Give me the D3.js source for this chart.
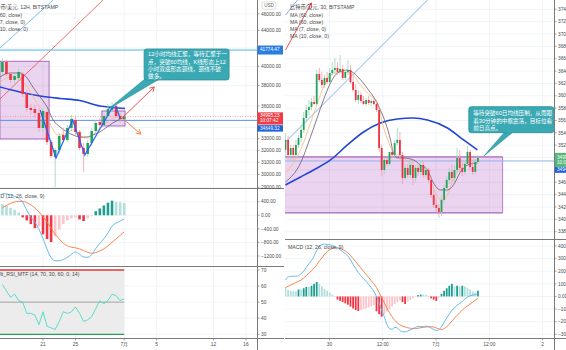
<!DOCTYPE html>
<html><head><meta charset="utf-8">
<script src="https://cdn.jsdelivr.net/npm/d3@7"></script>
<style>
html,body{margin:0;padding:0;background:#fff;}
svg{display:block;font-family:"Liberation Sans",Arial,"Noto Sans CJK SC",sans-serif;}
</style>
</head><body>
<svg id="chart" width="566" height="350"></svg>
<script>
// ================= DATA =================
// Left: BTC/USD 12h candles, [open, high, low, close]
const leftStart = new Date(2021, 5, 16, 0, 0);
const leftCandles = [
  [39408,40902,39095,40469],[40469,40685,38991,39199],[39199,39408,38271,38577],
  [38577,39199,38068,38991],[38785,39830,38373,39408],[39199,39408,36872,37168],
  [37168,37565,35430,35809],[35809,36192,35148,35619],[35714,36096,34870,35336],
  [35336,35809,33595,33954],[33954,35809,33595,35524],[35430,35619,32455,32715],
  [32715,32889,31353,31520],[31436,32197,29026,32026],[32026,33506,31688,33240],
  [33329,33954,32715,32889],[32889,34226,32715,33954],[33954,35148,33684,34777],
  [34685,34962,33329,33595],[33595,33774,32026,32197],[32197,32628,30207,31688],
  [31688,32889,31436,32628],[32628,33954,32369,33684],[33684,34685,33506,34409],
  [34501,34870,33954,34226],[34226,35336,34135,35055],[35055,36192,34870,35714],
  [35619,36385,35430,36000],[36000,36192,34870,35055],[35055,35336,34409,34777],
  [34777,35148,34685,34995.23]
];
// moving averages as [candle index, value]
const leftMA60 = [[-0.6,37865],[4.3,37365],[9.3,36970],[14.2,36725],[19.1,36530],[24.0,36000],[27.2,35857],[30.2,35761]];
const leftMA10 = [[-0.6,38886],[1.9,39303],[4.3,39303],[6.1,38784],[7.5,37865],[9.3,36872],[11.0,35904],[12.5,34684],[14.2,34044],[15.9,33596],[17.4,33329],[19.1,33151],[20.8,33151],[22.3,33329],[24.0,33596],[25.8,34044],[27.2,34409],[29.7,34870]];
const leftMA7 = [[-0.6,38272],[1.9,38886],[3.6,38784],[6.1,37865],[8.5,36289],[11.0,34961],[12.5,33775],[13.7,33329],[15.9,33505],[17.4,33775],[19.1,33151],[20.8,33063],[22.3,33329],[24.0,33954],[25.8,34499],[28.2,34961],[29.7,35055]];
const leftZigzag = [[9.3,35619],[13.2,31349],[17.3,34684],[20.3,31602],[27.0,35809],[28.0,35904],[29.0,34870]];
const leftLevelHigh = 41774.47;
const leftLevelLow = 34649.32;
const lastPrice = 34995.23;
const leftMacd = [640,630,600,560,500,380,150,-60,-200,-420,-680,-1000,-1250,-1340,-1340,-1300,-1240,-1150,-1080,-1150,-1230,-1240,-1160,-980,-830,-690,-520,-320,-230,-170,-110];
const leftSignal = [220,290,350,390,410,410,370,310,220,100,-40,-200,-380,-560,-700,-820,-900,-940,-960,-990,-1040,-1090,-1120,-1100,-1050,-990,-900,-800,-700,-590,-490];
const leftHist = [330,280,220,160,80,-60,-150,-260,-380,-330,-560,-700,-790,-620,-420,-260,-150,-90,-60,-120,-170,-90,-30,120,200,290,370,430,400,380,360];
const leftRsi = [61,57,53,55,51,50,43,43,42,36,44,35,34,33,38,44,43,44,47,43,38,39,41,46,51,49,51,55,54,51,52];
const leftPriceTicks = [46000,44000,42000,40000,38000,36000,34000,33000,32000,31000,30000,29000];
const leftMacdTicks = [400,0,-400,-800,-1200];
const rsiTicks = [70,60,50,40,30];
const leftTimeTicks = [new Date(2021,5,21),new Date(2021,5,25),new Date(2021,6,1),new Date(2021,6,5),new Date(2021,6,12),new Date(2021,6,16)];
const leftTimeLabels = ["21","25","7月","5","12","16"];

// Right: BTC/USD 30m candles, [open, high, low, close]
const rightCandles = [
  [35123,35398,34994,35285],[35285,35350,34961,35042],[35042,35204,34929,35155],
  [35155,35204,34961,35042],[35042,35285,34994,35204],[35204,35366,35155,35317],
  [35317,35527,35252,35447],[35447,35738,35398,35641],[35641,35851,35576,35770],
  [35770,35932,35690,35819],[35819,35965,35770,35900],[35900,35997,35851,35867],
  [35867,36418,35851,36353],[36353,36450,36223,36256],[36256,36385,36127,36175],
  [36175,36337,36127,36288],[36288,36385,36191,36223],[36223,36450,36191,36369],
  [36369,36547,36320,36418],[36418,36612,36353,36450],[36450,36547,36337,36385],
  [36385,36660,36353,36434],[36434,36498,36256,36288],[36288,36418,36256,36385],
  [36385,36579,36337,36418],[36418,36498,36191,36223],[36223,36320,36062,36094],
  [36094,36191,35900,35932],[35932,36094,35867,36013],[36013,36062,35884,35916],
  [35916,35997,35851,35867],[35867,35965,35835,35932],[35932,35997,35851,35884],
  [35884,35948,35835,35916],[35916,35965,35851,35867],[35867,35932,35738,35770],
  [35770,35819,35091,35155],[35155,35204,34702,34799],[34799,34994,34734,34961],
  [34961,35026,34864,34896],[34896,35091,34864,35091],[35091,35155,34994,35042],
  [35042,35285,35010,35236],[35236,35479,35204,35285],[35285,35414,34994,35042],
  [35042,35091,34573,34670],[34670,34913,34638,34832],[34832,34896,34670,34718],
  [34718,34961,34670,34880],[34880,34961,34557,34670],[34670,34880,34605,34832],
  [34832,34913,34702,34767],[34767,34961,34718,34880],[34880,34929,34670,34718],
  [34718,34864,34670,34799],[34799,34832,34589,34638],[34638,34702,34346,34395],
  [34395,34476,34185,34233],[34233,34346,34120,34185],[34185,34249,34023,34120],
  [34120,34379,34055,34314],[34314,34557,34265,34508],[34508,34702,34443,34638],
  [34638,34832,34573,34767],[34767,34880,34605,34670],[34670,34864,34605,34799],
  [34799,35155,34751,34994],[34994,35123,34767,34832],[34832,34929,34702,34767],
  [34767,34961,34718,34896],[34896,35188,34864,35091],[35091,35123,34799,34848],
  [34848,34929,34718,34767],[34767,34961,34734,34929],[34929,35042,34896,34995.23]
];
const rightMA60 = [[0,34557],[5.8,34686],[10.8,34799],[17.3,34961],[23.8,35204],[30,35414],[36.5,35560],[43,35625],[49.2,35641],[54.6,35608],[62.3,35479],[68.5,35285],[73.8,35123]];
const rightMA10 = [[0,34605],[5.8,34913],[9.6,35333],[12.3,35657],[14.6,35932],[17.3,36207],[20,36369],[23.8,36417],[26.2,36369],[29.6,36223],[31.9,36094],[34.6,35932],[36.5,35770],[38.5,35560],[40.4,35285],[41.5,35074],[43.1,34994],[45.4,34994],[49.2,34961],[51.9,34880],[54.6,34799],[56.9,34589],[59.6,34476],[62.3,34476],[64.6,34557],[67.3,34767],[70,34880],[73.8,34913]];
const rightMA7 = [[0,34750],[5.8,35123],[9.6,35560],[12.3,35883],[14.6,36142],[17.3,36336],[21.2,36385],[25,36369],[28.8,36175],[31.5,36045],[35.4,35883],[37.7,35495],[40.4,35172],[42.3,35042],[44.2,35042],[46.2,34961],[50,34832],[53.8,34767],[56.5,34557],[58.5,34363],[60.4,34314],[62.3,34396],[64.2,34605],[66.5,34799],[69.2,34913],[71.9,34961],[73.8,34961]];
const rightZone = {from:0, to:83.5, top:35010, bottom:34104};
const rightLevel = 34945;
const rightMacd = [130,155,160,160,160,165,180,200,230,260,285,320,365,395,410,415,412,410,405,395,385,370,355,340,320,290,255,220,190,165,140,120,95,70,40,0,-50,-110,-160,-220,-255,-260,-245,-250,-270,-280,-280,-275,-265,-255,-245,-238,-238,-240,-235,-240,-250,-262,-270,-265,-240,-205,-170,-140,-110,-90,-70,-55,-40,-20,-5,5,10,15,22];
const rightSignal = [70,80,90,100,110,120,130,145,165,185,205,225,250,280,305,335,355,370,380,385,385,380,372,360,345,325,300,275,250,225,200,175,150,125,100,70,30,-10,-50,-90,-130,-160,-190,-210,-225,-235,-242,-248,-252,-255,-255,-252,-248,-245,-242,-240,-240,-242,-250,-258,-263,-255,-240,-220,-195,-172,-150,-128,-108,-90,-75,-60,-45,-30,-15];
const rightHist = [70,50,45,42,40,55,55,65,75,75,85,100,115,100,80,60,45,30,15,5,-25,-35,-45,-55,-65,-80,-95,-108,-115,-105,-100,-95,-88,-78,-70,-118,-140,-160,-140,-120,-100,-80,-60,-45,-30,-45,-60,-40,-28,-15,-3,10,15,15,12,5,-15,-25,-35,-10,20,45,65,85,100,80,85,80,85,80,70,55,40,30,45];
const rightPriceTicks = d3.range(33800, 37401, 200);
const rightMacdTicks = [400,300,200,100,0,-100,-200,-300];
const rightTimeTicks = [16.9,37.4,57.9,78.4,98.9];
const rightTimeLabels = ["30","12:00","7月","12:00","2"];

const leftNote = ["12小时均线汇聚，等待汇聚于一","点，突破60均线，K线形态上12","小时双底形态颈线，颈线不破","做多。"];
const rightNote = ["等待突破60日均线压制，从而跟","着30分钟的中枢震荡，目标位看","前日高点。"];

// ================= SETUP =================
const svg = d3.select("#chart");
svg.append("rect").attr("width",566).attr("height",350).attr("fill","#fff");
const defs = svg.append("defs");
function clip(id,x,y,w,h){defs.append("clipPath").attr("id",id).append("rect").attr("x",x).attr("y",y).attr("width",w).attr("height",h);}
clip("lm",0,0,257,188); clip("lmacd",0,188.5,257,77.5); clip("lrsi",0,266.5,257,71.5);
clip("rm",285,0,269,239); clip("rmacd",285,239.5,269,98.5);
clip("leftAll",0,0,284,350); clip("rightAll",285,0,281,350);

const C = {
  grid:"#edf1f5", up:"#22a45a", dn:"#ef3340", upW:"#9fd3bd", dnW:"#f3a0a7",
  ma60:"#2245d6", ma10:"#6a5872", ma7:"#f3bd7a", zig:"#2962ff",
  hUp:"#1f9e8f", hUpL:"#b2dfdb", hDn:"#f23645", hDnL:"#fac6cb",
  macd:"#53b3ea", sig:"#f5793a", text:"#4a4a4a", axis:"#7a7a7a",
  note:"#3aa9b4", noteEdge:"#2b8f99"
};

// scales
const xLt = d3.scaleTime().domain([new Date(2021,5,21), new Date(2021,6,16)]).range([43,246]);
const lx = i => xLt(new Date(leftStart.getTime() + i*43200000));
const yL = d3.scaleLog().domain([29000,46000]).range([187.3,13.8]);
const yLm = d3.scaleLinear().domain([-1200,400]).range([256,201.7]);
const yLr = d3.scaleLinear().domain([30,70]).range([334.3,270]);
const xR = d3.scaleLinear().domain([0,74]).range([285.5,477.9]);
const yR = d3.scaleLinear().domain([33800,37400]).range([231.7,9.3]);
const yRm = d3.scaleLinear().domain([-300,400]).range([334.3,246]);

const fmt = d3.format(".2f");

// ================= helpers =================
function hline(g,y,x1,x2,color,w,dash){
  const l=g.append("line").attr("x1",x1).attr("x2",x2).attr("y1",y).attr("y2",y).attr("stroke",color).attr("stroke-width",w||1);
  if(dash) l.attr("stroke-dasharray",dash); return l;
}
function vline(g,x,y1,y2,color,w){
  return g.append("line").attr("x1",x).attr("x2",x).attr("y1",y1).attr("y2",y2).attr("stroke",color).attr("stroke-width",w||1);
}
function drawCandles(g,data,xf,yf,bw){
  g.append("g").selectAll("line").data(data).join("line")
    .attr("x1",(d,i)=>xf(i)).attr("x2",(d,i)=>xf(i))
    .attr("y1",d=>yf(d[1])).attr("y2",d=>yf(d[2]))
    .attr("stroke",d=>d[3]>=d[0]?C.upW:C.dnW).attr("stroke-width",0.8);
  g.append("g").selectAll("rect").data(data).join("rect")
    .attr("x",(d,i)=>xf(i)-bw/2).attr("width",bw)
    .attr("y",d=>Math.min(yf(d[0]),yf(d[3])))
    .attr("height",d=>Math.max(0.8,Math.abs(yf(d[0])-yf(d[3]))))
    .attr("fill",d=>d[3]>=d[0]?C.up:C.dn);
}
function drawPath(g,pts,xf,yf,color,w,curve){
  g.append("path").datum(pts)
    .attr("d",d3.line().x(d=>xf(d[0])).y(d=>yf(d[1])).curve(curve||d3.curveMonotoneX))
    .attr("fill","none").attr("stroke",color).attr("stroke-width",w);
}
function histColor(v,prev){
  if(v>=0) return (prev!==undefined && v>prev)?C.hUp:C.hUpL;
  return (prev!==undefined && v<prev)?C.hDn:C.hDnL;
}
function drawHist(g,vals,xf,yf,bw){
  g.append("g").selectAll("rect").data(vals).join("rect")
    .attr("x",(d,i)=>xf(i)-bw/2).attr("width",bw)
    .attr("y",d=>Math.min(yf(0),yf(d))).attr("height",d=>Math.abs(yf(d)-yf(0)))
    .attr("fill",(d,i)=>histColor(d,vals[i-1]));
}
function arrow(g,x1,y1,x2,y2,color){
  g.append("line").attr("x1",x1).attr("y1",y1).attr("x2",x2).attr("y2",y2).attr("stroke",color).attr("stroke-width",0.9);
  const a=Math.atan2(y2-y1,x2-x1), L=5;
  [a+2.6,a-2.6].forEach(b=>{
    g.append("line").attr("x1",x2).attr("y1",y2).attr("x2",x2+L*Math.cos(b)).attr("y2",y2+L*Math.sin(b))
      .attr("stroke",color).attr("stroke-width",0.9);
  });
}
function text(g,x,y,s,size,color,anchor){
  return g.append("text").attr("x",x).attr("y",y).text(s).attr("font-size",size).attr("fill",color||C.text).attr("text-anchor",anchor||"start");
}
function callout(g,bx,by,bw,bh,base,tip,lines,tx,ty0,lh){
  g.append("path").attr("d",`M${bx+base[0][0]},${by+base[0][1]-2}L${tip[0]},${tip[1]}L${bx+base[1][0]},${by+base[1][1]-2}Z`)
    .attr("fill",C.note).attr("stroke",C.noteEdge).attr("stroke-width",0.6);
  g.append("rect").attr("x",bx).attr("y",by).attr("width",bw).attr("height",bh).attr("rx",2.5)
    .attr("fill",C.note).attr("stroke",C.noteEdge).attr("stroke-width",0.8);
  g.append("path").attr("d",`M${bx+base[0][0]+0.6},${by+bh-0.6}L${bx+base[1][0]-0.6},${by+bh-0.6}`)
    .attr("stroke",C.note).attr("stroke-width",1.4);
  lines.forEach((s,k)=>text(g,bx+tx,by+ty0+k*lh,s,5.6,"#fff"));
}

// ================= LEFT PANEL =================
const left = svg.append("g").attr("clip-path","url(#leftAll)");
// grid
const lgrid = left.append("g");
leftTimeTicks.forEach(d=>vline(lgrid,xLt(d),0,338,C.grid,0.8));
leftPriceTicks.forEach(v=>hline(lgrid,yL(v),0,257,C.grid,0.8));
leftMacdTicks.forEach(v=>hline(lgrid,yLm(v),0,257,C.grid,0.8));
rsiTicks.forEach(v=>hline(lgrid,yLr(v),0,257,C.grid,0.8));

// main pane
const lm = left.append("g").attr("clip-path","url(#lm)");
// pattern zones
lm.append("rect").attr("x",lx(-0.6)).attr("y",yL(40545)).attr("width",lx(11.5)-lx(-0.6)).attr("height",yL(32975)-yL(40545))
  .attr("fill","#9c27b0").attr("fill-opacity",0.2).attr("stroke","#a45cb8").attr("stroke-width",0.9);
lm.append("rect").attr("x",lx(24.5)).attr("y",yL(35525)).attr("width",lx(30.2)-lx(24.5)).attr("height",yL(34135)-yL(35525))
  .attr("fill","#9c27b0").attr("fill-opacity",0.2).attr("stroke","#a45cb8").attr("stroke-width",0.9);
// trend lines
lm.append("line").attr("x1",lx(-0.6)).attr("y1",yL(36676)).attr("x2",lx(24.8)).attr("y2",yL(47723)).attr("stroke","#f04a4a").attr("stroke-width",0.8);
lm.append("line").attr("x1",lx(-0.6)).attr("y1",yL(42005)).attr("x2",lx(12.5)).attr("y2",yL(47723)).attr("stroke","#5aaef0").attr("stroke-width",0.8);
// levels
hline(lm,yL(leftLevelHigh),0,257,"#4fb7e8",1);
hline(lm,yL(leftLevelLow),0,257,"#5b8def",1);
hline(lm,yL(lastPrice),0,257,"#f08a8a",0.8,"1,1.5");
// moving averages
drawPath(lm,leftMA60,lx,yL,C.ma60,1.6);
drawPath(lm,leftMA7,lx,yL,C.ma7,0.8);
drawPath(lm,leftMA10,lx,yL,C.ma10,0.8);
// candles
drawCandles(lm,leftCandles,lx,yL,2.6);
// W pattern
drawPath(lm,leftZigzag,lx,yL,C.zig,1.2,d3.curveLinear);
// arrows
arrow(lm,lx(29.5),yL(34870),lx(37.4),yL(37865),"#e8413e");
arrow(lm,lx(29.5),yL(34870),lx(34.1),yL(33414),"#f4793b");
// note
callout(lm,lx(34.9),yL(41893),85,31,[[2,31],[17,31]],[lx(25.8),yL(35619)],leftNote,4,7.3,7.3);

// legend
const lleg = left.append("g");
text(lleg,-10,8.6,"比特币/美元, 12H, BITSTAMP",5.2);
text(lleg,-11,16.8,"MA (60, close)",5.2);
text(lleg,-11,23.8,"MA (7, close, 0)",5.2);
text(lleg,-11,30.8,"MA (10, close, 0)",5.2);

// MACD pane
const lmacd = left.append("g").attr("clip-path","url(#lmacd)");
drawHist(lmacd,leftHist,lx,yLm,2.6);
drawPath(lmacd,leftSignal.map((v,i)=>[i,v]),lx,yLm,C.sig,0.9);
drawPath(lmacd,leftMacd.map((v,i)=>[i,v]),lx,yLm,C.macd,0.9);
text(left,-11,198.4,"MACD (12, 26, close, 9)",5.2);

// RSI pane
const lrsi = left.append("g").attr("clip-path","url(#lrsi)");
const rsiEnd = lx(leftRsi.length-1);
lrsi.append("rect").attr("x",0).attr("y",yLr(70)).attr("width",rsiEnd).attr("height",yLr(30)-yLr(70)).attr("fill","#ececec");
hline(lrsi,yLr(50),0,rsiEnd,"#999",0.9);
hline(lrsi,yLr(70),0,rsiEnd,"#e53935",1.3);
hline(lrsi,yLr(30),0,rsiEnd,"#26a05a",1.3);
drawPath(lrsi,leftRsi.map((v,i)=>[i,v]),lx,yLr,"#46dccb",0.9,d3.curveLinear);
text(left,-14,276,"CM_Ult_RSI_MTF (14, 70, 30, 60, 0, 14)",5.2);

// separators & axis
hline(left,188.5,0,284,C.axis,1);
hline(left,266.5,0,284,C.axis,1);
hline(left,338.5,0,284,C.axis,1);
vline(left,257.5,0,350,C.axis,1);

// price axis labels
const lax = left.append("g");
leftPriceTicks.forEach(v=>{ hline(lax,yL(v),257.5,259.5,C.axis,0.7); text(lax,261,yL(v)+1.7,fmt(v),4.8); });
leftMacdTicks.forEach(v=>{ hline(lax,yLm(v),257.5,259.5,C.axis,0.7); text(lax,261,yLm(v)+1.7,fmt(v),4.8); });
rsiTicks.forEach(v=>{ hline(lax,yLr(v),257.5,259.5,C.axis,0.7); text(lax,261,yLr(v)+1.7,String(v),4.8); });
leftTimeTicks.forEach((d,k)=>{ vline(lax,xLt(d),338.5,340.5,C.axis,0.7); text(lax,xLt(d),346.3,leftTimeLabels[k],4.8,C.text,"middle"); });
// price badges
function badge(g,y,h,color,lines){
  g.append("rect").attr("x",257.5).attr("y",y).attr("width",25.5).attr("height",h).attr("fill",color);
  lines.forEach((s,k)=>text(g,260,y+3.4+1.7+k*4.6,s,4.7,"#fff"));
}
badge(lax,yL(leftLevelHigh)-4.5,9,"#2a7de1",[fmt(leftLevelHigh)]);
badge(lax,yL(lastPrice)-4.3,12.2,"#ef3d45",[fmt(lastPrice),"10:07:42"]);
badge(lax,yL(lastPrice)+8.6,6.4,"#1f63e0",[fmt(leftLevelLow)]);
lax.select("text:last-child");
// currency tag
lax.append("rect").attr("x",262).attr("y",1.8).attr("width",14).attr("height",7.4).attr("rx",2).attr("fill","#fff").attr("stroke","#c8c8c8").attr("stroke-width",0.6);
text(lax,269,7.3,"USD",4.6,"#666","middle");

// ================= RIGHT PANEL =================
const right = svg.append("g").attr("clip-path","url(#rightAll)");
const rgrid = right.append("g");
rightTimeTicks.forEach(t=>vline(rgrid,xR(t),0,338,C.grid,0.8));
rightPriceTicks.forEach(v=>hline(rgrid,yR(v),285,554,C.grid,0.8));
rightMacdTicks.forEach(v=>hline(rgrid,yRm(v),285,554,C.grid,0.8));

const rm = right.append("g").attr("clip-path","url(#rm)");
// consolidation zone
rm.append("rect").attr("x",xR(rightZone.from)-1).attr("y",yR(rightZone.top)).attr("width",xR(rightZone.to)-xR(rightZone.from)+1)
  .attr("height",yR(rightZone.bottom)-yR(rightZone.top)).attr("fill","#9c27b0").attr("fill-opacity",0.2);
hline(rm,yR(rightZone.top),xR(rightZone.from)-1,xR(rightZone.to),"#a866bb",1.3);
hline(rm,yR(rightZone.bottom),xR(rightZone.from)-1,xR(rightZone.to),"#a866bb",1.3);
vline(rm,xR(rightZone.to),yR(rightZone.top),yR(rightZone.bottom),"#a866bb",0.8);
// trend lines
rm.append("line").attr("x1",xR(0)).attr("y1",yR(35252)).attr("x2",xR(54.6)).attr("y2",yR(37550)).attr("stroke","#6b95ea").attr("stroke-width",0.8);
rm.append("line").attr("x1",xR(0)).attr("y1",yR(37307)).attr("x2",xR(4.6)).attr("y2",yR(37550)).attr("stroke","#6b95ea").attr("stroke-width",0.8);
arrow(rm,xR(0),yR(36741),xR(10),yR(37503),"#e8413e");
hline(rm,yR(rightLevel),285,554,"#93b1ef",1);
// moving averages
drawPath(rm,rightMA60,xR,yR,C.ma60,1.6);
drawPath(rm,rightMA7,xR,yR,C.ma7,0.8);
drawPath(rm,rightMA10,xR,yR,C.ma10,0.8);
drawCandles(rm,rightCandles,xR,yR,1.8);
callout(rm,xR(70.5),yR(35824),85,26,[[37,26],[46,26]],[xR(76.3),yR(35026)],rightNote,4.4,8.6,7.5);

// legend
const rleg = right.append("g");
text(rleg,290,8.6,"比特币/美元, 30, BITSTAMP",5.2);
text(rleg,290,16.8,"MA (60, close)",5.2);
text(rleg,290,23.8,"MA (60, close)",5.2);
text(rleg,290,30.8,"MA (7, close, 0)",5.2);
text(rleg,290,37.8,"MA (10, close, 0)",5.2);

// MACD
const rmacd = right.append("g").attr("clip-path","url(#rmacd)");
drawHist(rmacd,rightHist,xR,yRm,1.8);
drawPath(rmacd,rightSignal.map((v,i)=>[i,v]),xR,yRm,C.sig,0.9);
drawPath(rmacd,rightMacd.map((v,i)=>[i,v]),xR,yRm,C.macd,0.9);
text(right,288,248.8,"MACD (12, 26, close, 9)",5.2);

// separators & axis
vline(right,284.5,0,350,"#9a9a9a",0.8);
hline(right,239.5,285,566,C.axis,1);
hline(right,338.5,285,566,C.axis,1);
vline(right,554.5,0,350,C.axis,1);
const rax = right.append("g");
rightPriceTicks.forEach(v=>{ hline(rax,yR(v),554.5,556.5,C.axis,0.7); text(rax,558,yR(v)+1.7,fmt(v),4.8); });
rightMacdTicks.forEach(v=>{ hline(rax,yRm(v),554.5,556.5,C.axis,0.7); text(rax,558,yRm(v)+1.7,fmt(v),4.8); });
rightTimeTicks.forEach((t,k)=>{ vline(rax,xR(t),338.5,340.5,C.axis,0.7); text(rax,xR(t),346.3,rightTimeLabels[k],4.8,C.text,"middle"); });
rax.append("rect").attr("x",555).attr("y",yR(lastPrice)-5).attr("width",12).attr("height",14).attr("fill","#56b878");
text(rax,557,yR(lastPrice)+1.5,fmt(lastPrice),4.7,"#fff");
text(rax,557,yR(lastPrice)+6.5,"10:07:42",4.7,"#fff");
rax.append("rect").attr("x",555).attr("y",yR(lastPrice)+9).attr("width",12).attr("height",6).attr("fill","#1f63e0");
text(rax,557,yR(lastPrice)+13.6,fmt(rightLevel),4.7,"#fff");
</script>
</body></html>
